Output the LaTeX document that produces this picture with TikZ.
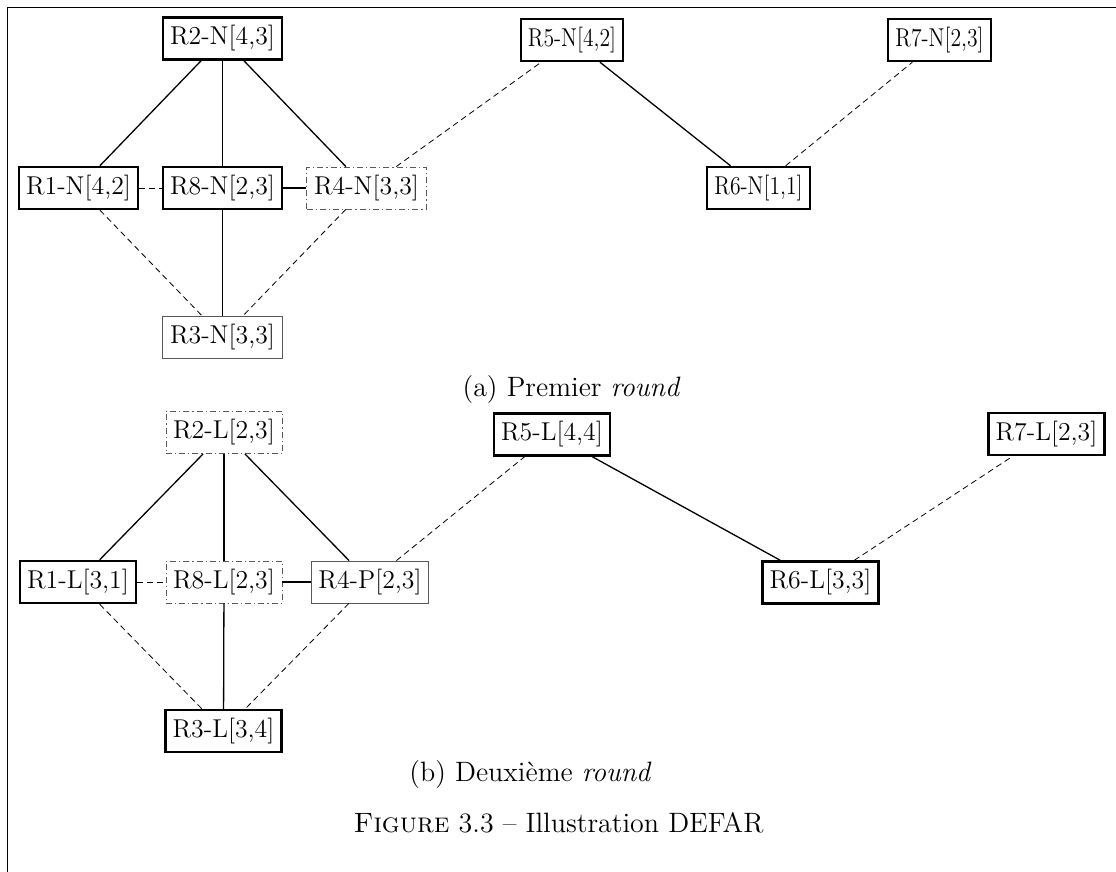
\documentclass[tikz,border=0pt]{standalone}
\usepackage{fontspec}
\usepackage{tikz}

\newcommand{\squeeze}[1]{\scalebox{0.84}[1]{#1}}

\begin{document}
\begin{tikzpicture}[x=0.5pt,y=-0.5pt,
    routerbox/.style={font=\fontsize{12.9}{15}\selectfont, inner xsep=3.6pt, minimum height=21pt},
    thickbox/.style={routerbox, draw, line width=1.2pt},
    thinbox/.style={routerbox, draw=black!65, line width=0.4pt},
    dotbox/.style={routerbox, draw=black!65, line width=0.4pt, dash pattern=on 3pt off 1.5pt on 0.6pt off 1.5pt},
    link/.style={line width=0.65pt},
    weaklink/.style={line width=0.4pt, dash pattern=on 3pt off 2pt},
    caption/.style={font=\fontsize{14}{17}\selectfont, anchor=base}]
    \useasboundingbox (0,0) rectangle (1116,872);
    \draw[line width=0.6pt] (7.5,872) -- (7.5,7.5) -- (1116,7.5);

    % (a) first round
    \begin{scope}
        \node[thickbox] (a2) at (222.5,38.5) {R2-N[4,3]};
        \node[thickbox] (a1) at (78.5,188) {R1-N[4,2]};
        \node[thickbox] (a8) at (222.5,188) {R8-N[2,3]};
        \node[dotbox] (a4) at (366.5,188) {R4-N[3,3]};
        \node[thinbox] (a3) at (222.5,337) {R3-N[3,3]};
        \node[thickbox] (a5) at (572,40) {\squeeze{R5-N[4,2]}};
        \node[thickbox] (a6) at (758.5,188) {\squeeze{R6-N[1,1]}};
        \node[thickbox] (a7) at (939.5,40) {\squeeze{R7-N[2,3]}};
        \draw[link] (a2) -- (a1);
        \draw[link] (a2) -- (a8);
        \draw[link] (a2) -- (a4);
        \draw[weaklink] (a1) -- (a8); % dashed
        \draw[link] (a8) -- (a4);
        \draw[weaklink] (a1) -- (a3);
        \draw[link] (a8) -- (a3);
        \draw[weaklink] (a4) -- (a3);
        \draw[weaklink] (a4) -- (a5);
        \draw[link] (a5) -- (a6);
        \draw[weaklink] (a6) -- (a7);
        \node[caption] (capa) at (571.5,396) {(a) Premier \textit{round}};
    \end{scope}

    % (b) second round
    \begin{scope}
        \node[dotbox] (b2) at (224,432.5) {R2-L[2,3]};
        \node[thickbox] (b1) at (78,582) {R1-L[3,1]};
        \node[dotbox] (b8) at (224,582) {R8-L[2,3]};
        \node[thinbox] (b4) at (370,582) {R4-P[2,3]};
        \node[thickbox] (b3) at (223.5,731) {R3-L[3,4]};
        \node[thickbox] (b5) at (552,434.5) {R5-L[4,4]};
        \node[thickbox] (b6) at (820.5,582.5) {R6-L[3,3]};
        \node[thickbox] (b7) at (1046.5,434) {R7-L[2,3]};
        \draw[link] (b2) -- (b1);
        \draw[link] (b2) -- (b8);
        \draw[link] (b2) -- (b4);
        \draw[weaklink] (b1) -- (b8); % dashed
        \draw[link] (b8) -- (b4);
        \draw[weaklink] (b1) -- (b3);
        \draw[link] (b8) -- (b3);
        \draw[weaklink] (b4) -- (b3);
        \draw[weaklink] (b4) -- (b5);
        \draw[link] (b5) -- (b6);
        \draw[weaklink] (b6) -- (b7);
        \node[caption] (capb) at (530.5,781) {(b) Deuxième \textit{round}};
    \end{scope}

    \node[caption] (fig) at (558.5,832) {\textsc{Figure} 3.3 -- Illustration DEFAR};
\end{tikzpicture}
\end{document}
